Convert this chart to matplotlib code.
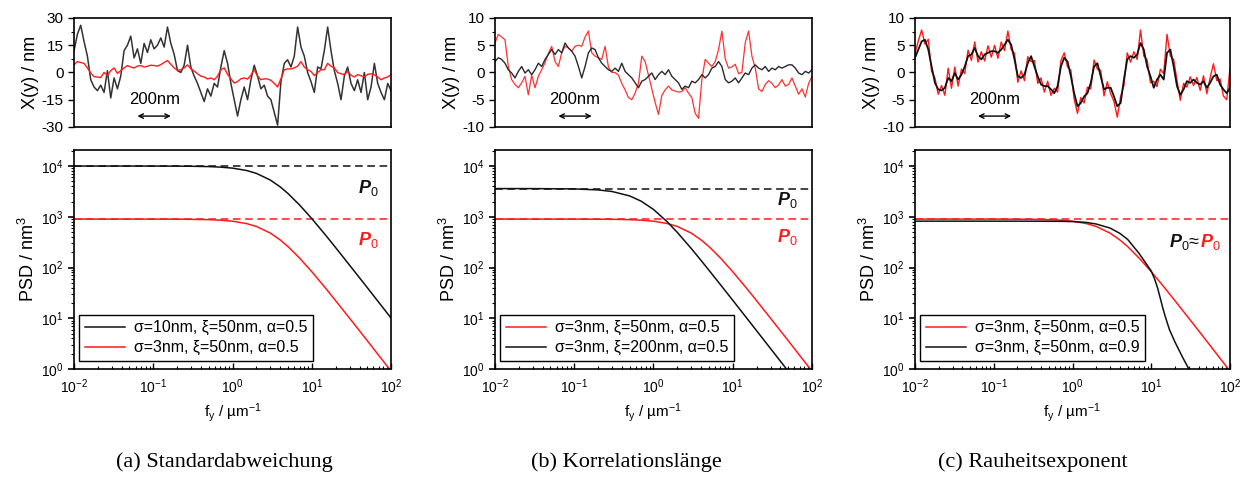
import numpy as np
import matplotlib
matplotlib.use("Agg")
import matplotlib.pyplot as plt
import matplotlib.transforms as mtransforms
from matplotlib.ticker import LogLocator, NullFormatter, MultipleLocator

plt.rcParams['font.family'] = ['Liberation Sans', 'DejaVu Sans']
plt.rcParams['mathtext.fontset'] = 'custom'
plt.rcParams['mathtext.rm'] = 'Liberation Sans'
plt.rcParams['mathtext.it'] = 'Liberation Sans:italic:bold'
plt.rcParams['mathtext.bf'] = 'Liberation Sans:bold'
plt.rcParams['axes.unicode_minus'] = False

# ---- line profiles X(y) in nm, sampled evenly over the 1900 nm profile length
trace_len = 1900
scale_bar = 200

xa_black = [12, 21, 26, 17, 9, -4, -8, -10, -7, -11, 1, -14, -3, -9, -2, 12, 15, 20, 8, 13,
            5, 16, 11, 18, 13, 15, 19, 14, 25, 16, 10, 1, 0, 4, 15, 3, -2, -6, -11, -16,
            -9, -13, -6, -8, 3, 12, 5, -6, -15, -24, -15, -8, -15, -4, 4, -2, -9, -7, -13, -15,
            -22, -29, -5, 5, 7, 3, 9, 25, 14, 9, 0, -5, -11, 3, 2, 12, 25, 12, 1, -6,
            -15, -2, 3, -6, -10, -4, -11, 0, -15, -8, 5, -6, -11, -15, -6, -10]
xa_red = [4.2, 6, 5.5, 5, 2.5, -0.3, -2.3, -2.5, -2.8, 0, -1.7, 1, 2.5, -0.5, 1, 2.5, 3.8, 3, 2.5, 3.5,
          3.8, 3, 3.4, 4, 3.8, 3.5, 4.3, 5.5, 6.6, 4.5, 2.5, 1.2, 1.5, 2.5, 4.2, 2, 0.8, -0.7, -2, -2.5,
          -3.6, -3, -4, -2, 1.5, 2.5, -1, -3.5, -5.8, -5, -3.5, -3, -3.6, -1.5, 1.5, -2, -4, -3.5, -3.6, -4.3,
          -6, -8, -3.5, 1.5, 2, 1.9, 2.5, 3.5, 6, 3, 1.5, 0.6, -1.7, 0, 1.5, 1.5, 5, 3.5, 2.5, 0,
          -0.7, -1.2, 0.6, -1.5, -2.5, -1.2, -1.8, -2.5, -1, -0.7, -1.2, -2.5, -4, -3, -2.5, -1.2]

xb_red = [5.4, 7, 6.5, 6, 1.1, -1.3, -2.2, -2.8, -1.9, -0.7, -4.1, -0.5, -2.8, -0.7, 0.5, 1.8, 3.5, 4.8, 2, 1.1,
          3.6, 4.8, 4.5, 3.9, 4.8, 5, 4.8, 6.5, 7.6, 3.6, 3, 2.7, 2.4, 4.8, 1, 0, 0, -0.5, -2, -3.2,
          -4.6, -5, -3.8, -2, 3, 2, -0.5, -3, -5.5, -7.7, -4.2, -3.2, -2.5, -3.2, -3.4, -3.6, -3.5, -2.8, -3.8, -4.6,
          -7.5, -8.4, -1.3, 2.4, 1.7, 1.1, 2, 4.2, 7.6, 2.5, 0.8, 1, 1.5, -0.2, 0, 5.5, 7.6, 3, 0.8, -3,
          -3.5, -2.2, -1.5, -2, -2.8, -2.3, -1.3, -2.5, -2.2, -1, -2.5, -4, -3, -4.5, -2, -0.7]
xb_black = [2.0, 2.7, 2.4, 1.7, 0.5, -0.1, -1.0, 0.2, 1.1, -0.1, 0.5, -0.4, 0.5, 1.7, 1.1, 2.4, 3.3, 4.2, 3.3, 4.2,
            3.6, 5.4, 4.5, 3.9, 3.0, 1.1, -1.0, 1.1, 3.6, 4.5, 4.2, 2.7, 1.7, 1.1, 0.5, 0.2, 0.8, 0.2, 1.7, 0.2,
            -0.4, -1.0, -1.9, -2.8, -1.6, -1.3, -0.7, -0.1, -1.3, -0.4, 0.2, -0.4, 0.5, -0.7, -1.3, -1.9, -3.1, -2.5, -2.8, -1.6,
            -1.9, -1.3, -0.4, -1.0, -0.4, 0.8, 1.1, 2.0, 1.1, -1.3, -1.9, -1.6, -1.0, -1.9, -1.0, -0.1, -0.4, 0.8, 1.4, 0.8,
            0.5, 1.1, 0.2, 0.8, 0.5, 1.1, 0.8, 1.1, 1.4, 1.4, 0.8, -0.1, -0.4, 0.2, -0.1, 0.5]

xc_black = [2.7, 4.2, 5.7, 6.0, 4.2, 1.1, -1.9, -3.1, -3.3, -2.8, -1.0, -1.6, -0.1, -1.3, -0.4, 1.1, 3.0, 3.3, 4.5, 3.0,
            2.4, 3.3, 3.6, 3.9, 3.9, 3.6, 4.2, 5.1, 6.0, 5.1, 2.4, -0.7, -1.0, -0.4, 1.7, 3.0, 1.1, -0.7, -2.2, -2.5,
            -2.5, -3.1, -3.8, -2.5, 1.1, 2.7, 2.0, -0.7, -3.8, -6.2, -5.6, -4.4, -3.8, -1.9, 1.1, 1.7, -0.7, -3.1, -2.8, -2.8,
            -4.4, -6.2, -5.6, -1.3, 2.4, 3.0, 2.7, 3.3, 5.4, 4.2, 1.1, -0.7, -2.8, -1.3, -0.4, -1.3, 3.6, 4.2, 1.1, -2.5,
            -4.1, -3.1, -1.6, -1.9, -1.3, -1.9, -2.2, -1.6, -2.8, -1.9, -0.7, -0.4, -2.2, -3.1, -3.8, -2.8]
xc_red = [3.5, 5.8, 7.8, 5.2, 6.1, 0.2, -1.0, -4.0, -2.4, -4.2, 0.8, -2.9, 1.0, -2.5, 0.6, -0.2, 4.1, 2.2, 5.6, 1.9,
          3.8, 2.1, 4.9, 2.8, 5.0, 2.6, 5.6, 4.0, 7.6, 4.2, 3.5, -1.8, 0.3, -1.5, 2.9, 2.0, 2.2, -2.0, -1.0, -3.6,
          -1.6, -4.2, -2.9, -3.6, 2.2, 3.6, 1.0, 0.4, -4.9, -7.5, -4.6, -5.6, -2.7, -3.0, 2.3, 0.6, 0.4, -4.3, -1.7, -3.9,
          -5.3, -8.2, -4.4, -2.4, 3.6, 1.9, 3.8, 2.4, 7.8, 3.0, 2.3, -1.9, -1.6, -2.6, 0.6, -0.2, 7.0, 3.0, 2.4, -1.4,
          -5.1, -2.0, -2.7, -0.8, -2.4, -0.9, -3.3, -0.6, -3.9, -1.0, 1.6, -1.5, -1.2, -4.3, -5.0, 0.8]

# ---- PSD curves (nm^3) versus f_y (1/um)
f_main = [0.01, 0.03, 0.1, 0.2, 0.3, 0.5, 0.7, 1, 1.5, 2, 3, 4, 5, 7, 10, 15, 20, 30, 50, 70, 100]
psd_s10 = [10000, 9999, 9990, 9961, 9912, 9759, 9539, 9102, 8183, 7170, 5296, 3877, 2884, 1713, 920,
           431, 247, 111, 40.4, 20.6, 10.1]
psd_s3 = [900, 900, 899, 896, 892, 878, 858, 819, 736, 645, 477, 349, 260, 154, 82.8,
          38.8, 22.2, 10.0, 3.64, 1.85, 0.91]
f_xi200 = [0.01, 0.03, 0.1, 0.2, 0.3, 0.5, 0.7, 1, 1.5, 2, 3, 4, 5, 7, 10, 15, 20, 30, 50]
psd_xi200 = [3599, 3595, 3544, 3386, 3152, 2581, 2030, 1396, 791, 492, 237, 137, 88.9, 45.9, 22.7,
             10.1, 5.69, 2.53, 0.91]
f_a09 = [0.01, 0.1, 0.3, 0.5, 0.7, 1, 1.5, 2, 3, 4, 5, 7, 10, 11, 12, 13, 14, 15, 17, 20, 25, 30]
psd_a09 = [820, 820, 819, 817, 814, 805, 775, 720, 600, 470, 360, 190, 85, 60, 40, 25, 16, 11, 6,
           3.4, 1.7, 1.0]
p0_s10 = 10000
p0_s3 = 900
p0_xi200 = 3600

lab_s10 = 'σ=10nm, ξ=50nm, α=0.5'
lab_s3 = 'σ=3nm, ξ=50nm, α=0.5'
lab_xi200 = 'σ=3nm, ξ=200nm, α=0.5'
lab_a09 = 'σ=3nm, ξ=50nm, α=0.9'
captions = ['(a) Standardabweichung', '(b) Korrelationslänge', '(c) Rauheitsexponent']

RED = '#ff1a1a'
BLK = '#111111'
DASH = (0, (5, 3))

fig = plt.figure(figsize=(12.55, 4.79), dpi=100)
lefts = [0.0590, 0.3944, 0.7291]
widths = [0.2526, 0.2526, 0.2510]


def style_top(ax, lim, step):
    ax.set_xlim(0, trace_len)
    ax.set_ylim(-lim, lim)
    ax.yaxis.set_major_locator(MultipleLocator(step))
    ax.yaxis.set_minor_locator(MultipleLocator(step / 2))
    ax.set_xticks([])
    ax.tick_params(axis='y', which='major', direction='out', length=4, width=1, labelsize=11)
    ax.tick_params(axis='y', which='minor', direction='out', length=2, width=0.8)
    for s in ax.spines.values():
        s.set_linewidth(1.2)
    ax.set_ylabel('X(y) / nm', fontsize=13, labelpad=2)
    trans = mtransforms.blended_transform_factory(ax.transData, ax.transAxes)
    ax.text(480, 0.25, '200nm', transform=trans, ha='center', va='center', fontsize=12)
    ax.annotate('', xy=(380 + scale_bar, 0.10), xytext=(380, 0.10), xycoords=trans, textcoords=trans,
                arrowprops=dict(arrowstyle='<->', lw=1, color='black', shrinkA=0, shrinkB=0,
                                mutation_scale=8))


def style_bottom(ax):
    ax.set_xscale('log')
    ax.set_yscale('log')
    ax.set_xlim(0.01, 100)
    ax.set_ylim(1, 2.07e4)
    for axis in (ax.xaxis, ax.yaxis):
        axis.set_major_locator(LogLocator(base=10, numticks=10))
        axis.set_minor_locator(LogLocator(base=10, subs=np.arange(2, 10), numticks=10))
        axis.set_minor_formatter(NullFormatter())
    ax.tick_params(axis='x', which='major', direction='in', length=4, width=1, labelsize=10, pad=6)
    ax.tick_params(axis='x', which='minor', direction='in', length=2, width=0.8)
    ax.tick_params(axis='y', which='major', direction='out', length=4, width=1.2, labelsize=10)
    ax.tick_params(axis='y', which='minor', direction='out', length=2, width=0.8)
    for s in ax.spines.values():
        s.set_linewidth(1.2)
    ax.set_xlabel('f$_\\mathrm{y}$ / µm$^{-1}$', fontsize=11, labelpad=4)
    ax.set_ylabel('PSD / nm$^\\mathrm{3}$', fontsize=13, labelpad=2)


def add_legend(ax):
    leg = ax.legend(loc='lower left', bbox_to_anchor=(0.016, 0.037), borderaxespad=0,
                    fontsize=11.5, handlelength=2.5, handletextpad=0.6, fancybox=False,
                    framealpha=1, edgecolor='black', borderpad=0.35, labelspacing=0.3)
    leg.get_frame().set_linewidth(1.0)


tops = []
bots = []
for i in range(3):
    tops.append(fig.add_axes([lefts[i], 0.7349, widths[i], 0.2276]))
    bots.append(fig.add_axes([lefts[i], 0.2296, widths[i], 0.4572]))

# (a) standard deviation
ax = tops[0]
ax.plot(np.linspace(0, trace_len, len(xa_black)), xa_black, color='#333333', lw=1.1)
ax.plot(np.linspace(0, trace_len, len(xa_red)), xa_red, color=RED, lw=1.0)
style_top(ax, 30, 15)

ax = bots[0]
ax.axhline(p0_s10, color=BLK, ls=DASH, lw=1.1)
ax.axhline(p0_s3, color=RED, ls=DASH, lw=1.1)
ax.plot(f_main, psd_s10, color=BLK, lw=1.1, label=lab_s10)
ax.plot(f_main, psd_s3, color=RED, lw=1.1, label=lab_s3)
style_bottom(ax)
add_legend(ax)
ax.text(0.927, 0.826, '$P_0$', transform=ax.transAxes, color=BLK, fontsize=13, ha='center', va='center')
ax.text(0.927, 0.589, '$P_0$', transform=ax.transAxes, color=RED, fontsize=13, ha='center', va='center')

# (b) correlation length
ax = tops[1]
ax.plot(np.linspace(0, trace_len, len(xb_red)), xb_red, color=RED, lw=0.9, alpha=0.9)
ax.plot(np.linspace(0, trace_len, len(xb_black)), xb_black, color='#2a2a2a', lw=1.0)
style_top(ax, 10, 5)

ax = bots[1]
ax.axhline(p0_xi200, color=BLK, ls=DASH, lw=1.1)
ax.axhline(p0_s3, color=RED, ls=DASH, lw=1.1)
ax.plot(f_main, psd_s3, color=RED, lw=1.1, label=lab_s3)
ax.plot(f_xi200, psd_xi200, color=BLK, lw=1.1, label=lab_xi200)
style_bottom(ax)
add_legend(ax)
ax.text(0.921, 0.772, '$P_0$', transform=ax.transAxes, color=BLK, fontsize=13, ha='center', va='center')
ax.text(0.921, 0.603, '$P_0$', transform=ax.transAxes, color=RED, fontsize=13, ha='center', va='center')

# (c) roughness exponent
ax = tops[2]
ax.plot(np.linspace(0, trace_len, len(xc_red)), xc_red, color=RED, lw=1.0)
ax.plot(np.linspace(0, trace_len, len(xc_black)), xc_black, color=BLK, lw=1.3)
style_top(ax, 10, 5)

ax = bots[2]
ax.axhline(p0_s3, color=RED, ls=DASH, lw=1.1)
ax.plot(f_main, psd_s3, color=RED, lw=1.1, label=lab_s3)
ax.plot(f_a09, psd_a09, color=BLK, lw=1.1, label=lab_a09)
style_bottom(ax)
add_legend(ax)
ax.text(0.905, 0.58, '$P_0$≈', transform=ax.transAxes, color=BLK, fontsize=13, ha='right', va='center')
ax.text(0.905, 0.58, '$P_0$', transform=ax.transAxes, color=RED, fontsize=13, ha='left', va='center')

cap_x = [224 / 1255, 626 / 1255, 1033 / 1255]
for cx, cap in zip(cap_x, captions):
    fig.text(cx, 0.035, cap, ha='center', va='center', fontsize=16,
             family=['Liberation Serif', 'DejaVu Serif'])

fig.savefig('out.png', dpi=100)
